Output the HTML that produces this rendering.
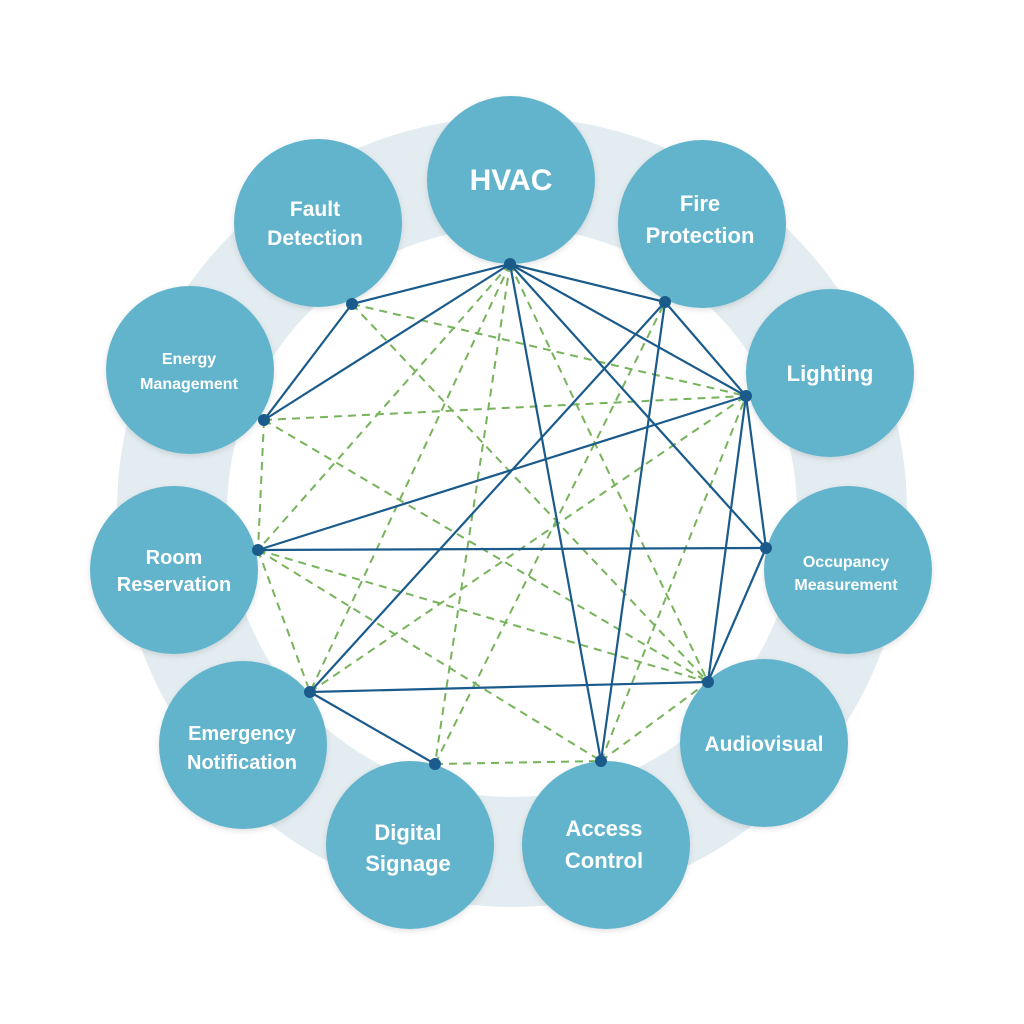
<!DOCTYPE html>
<html><head><style>html,body{margin:0;padding:0;background:#fff}svg{display:block}</style></head>
<body>
<svg width="1024" height="1024" viewBox="0 0 1024 1024" xmlns="http://www.w3.org/2000/svg">
<defs><filter id="sh" x="-20%" y="-20%" width="140%" height="140%"><feDropShadow dx="0" dy="2" stdDeviation="3" flood-color="#000" flood-opacity="0.12"/></filter></defs>
<circle cx="512" cy="512" r="340" fill="none" stroke="#e3ecf0" stroke-width="110"/>
<g stroke="#76b35a" stroke-width="2" stroke-dasharray="8,6" fill="none">
<line x1="352" y1="304" x2="746" y2="396"/>
<line x1="352" y1="304" x2="708" y2="682"/>
<line x1="510" y1="264" x2="258" y2="550"/>
<line x1="510" y1="264" x2="310" y2="692"/>
<line x1="510" y1="264" x2="435" y2="764"/>
<line x1="510" y1="264" x2="708" y2="682"/>
<line x1="264" y1="420" x2="746" y2="396"/>
<line x1="264" y1="420" x2="258" y2="550"/>
<line x1="264" y1="420" x2="708" y2="682"/>
<line x1="258" y1="550" x2="310" y2="692"/>
<line x1="258" y1="550" x2="708" y2="682"/>
<line x1="258" y1="550" x2="601" y2="761"/>
<line x1="310" y1="692" x2="746" y2="396"/>
<line x1="435" y1="764" x2="601" y2="761"/>
<line x1="435" y1="764" x2="665" y2="302"/>
<line x1="601" y1="761" x2="746" y2="396"/>
<line x1="601" y1="761" x2="708" y2="682"/>
</g>
<g stroke="#1a5b8c" stroke-width="2.2" fill="none">
<line x1="510" y1="264" x2="352" y2="304"/>
<line x1="510" y1="264" x2="264" y2="420"/>
<line x1="510" y1="264" x2="665" y2="302"/>
<line x1="510" y1="264" x2="746" y2="396"/>
<line x1="510" y1="264" x2="766" y2="548"/>
<line x1="510" y1="264" x2="601" y2="761"/>
<line x1="352" y1="304" x2="264" y2="420"/>
<line x1="665" y1="302" x2="310" y2="692"/>
<line x1="665" y1="302" x2="601" y2="761"/>
<line x1="665" y1="302" x2="746" y2="396"/>
<line x1="746" y1="396" x2="258" y2="550"/>
<line x1="746" y1="396" x2="708" y2="682"/>
<line x1="746" y1="396" x2="766" y2="548"/>
<line x1="258" y1="550" x2="766" y2="548"/>
<line x1="766" y1="548" x2="708" y2="682"/>
<line x1="310" y1="692" x2="708" y2="682"/>
<line x1="310" y1="692" x2="435" y2="764"/>
</g>
<g fill="#62b4cd" filter="url(#sh)">
<circle cx="511" cy="180" r="84"/>
<circle cx="702" cy="224" r="84"/>
<circle cx="830" cy="373" r="84"/>
<circle cx="848" cy="570" r="84"/>
<circle cx="764" cy="743" r="84"/>
<circle cx="606" cy="845" r="84"/>
<circle cx="410" cy="845" r="84"/>
<circle cx="243" cy="745" r="84"/>
<circle cx="174" cy="570" r="84"/>
<circle cx="190" cy="370" r="84"/>
<circle cx="318" cy="223" r="84"/>
</g>
<g fill="#1a5b8c">
<circle cx="510" cy="264" r="6"/><circle cx="665" cy="302" r="6"/><circle cx="746" cy="396" r="6"/>
<circle cx="766" cy="548" r="6"/><circle cx="708" cy="682" r="6"/><circle cx="601" cy="761" r="6"/>
<circle cx="435" cy="764" r="6"/><circle cx="310" cy="692" r="6"/><circle cx="258" cy="550" r="6"/>
<circle cx="264" cy="420" r="6"/><circle cx="352" cy="304" r="6"/>
</g>
<g fill="#fff" font-family="Liberation Sans, sans-serif" font-weight="bold" text-anchor="middle">
<text x="511" y="190" font-size="30">HVAC</text>
<text x="700" y="211" font-size="22">Fire</text>
<text x="700" y="243" font-size="22">Protection</text>
<text x="830" y="381" font-size="22">Lighting</text>
<text x="846" y="567" font-size="16">Occupancy</text>
<text x="846" y="590" font-size="16">Measurement</text>
<text x="764" y="751" font-size="21">Audiovisual</text>
<text x="604" y="836" font-size="22">Access</text>
<text x="604" y="868" font-size="22">Control</text>
<text x="408" y="840" font-size="22">Digital</text>
<text x="408" y="871" font-size="22">Signage</text>
<text x="242" y="740" font-size="20">Emergency</text>
<text x="242" y="769" font-size="20">Notification</text>
<text x="174" y="564" font-size="20">Room</text>
<text x="174" y="591" font-size="20">Reservation</text>
<text x="189" y="364" font-size="16">Energy</text>
<text x="189" y="389" font-size="16">Management</text>
<text x="315" y="216" font-size="21">Fault</text>
<text x="315" y="245" font-size="21">Detection</text>
</g>
</svg>
</body></html>
